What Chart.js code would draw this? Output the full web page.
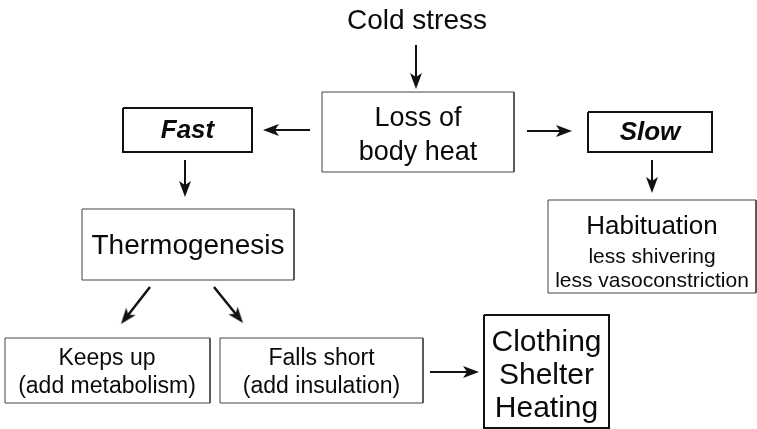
<!DOCTYPE html>
<html lang="en">
<head>
  <meta charset="UTF-8" />
  <title>Cold stress</title>
  <script src="https://cdn.jsdelivr.net/npm/chart.js"></script>
  <style>
    body {
      margin: 0;
      background: #ffffff;
    }
    .chart-wrapper {
      position: relative;
      width: 757px;
      height: 429px;
    }
  </style>
</head>
<body>
  <div class="chart-wrapper">
    <canvas id="flowChart"></canvas>
  </div>

  <script>
    // node texts, one list of lines per node
    const nodeText = [
      ["Cold stress"],
      ["Loss of", "body heat"],
      ["Fast"],
      ["Slow"],
      ["Thermogenesis"],
      ["Habituation", "less shivering", "less vasoconstriction"],
      ["Keeps up", "(add metabolism)"],
      ["Falls short", "(add insulation)"],
      ["Clothing", "Shelter", "Heating"]
    ];

    // layout in chart units (x 0..757, y 0..429 top-down)
    const nodeCenterX = [417, 418, 187.5, 650, 188, 652, 107, 321.5, 546.5];
    const nodeLineY = [
      [20], [118, 152], [130], [132], [245],
      [226, 256, 280], [358, 386], [358, 386], [342, 375, 408]
    ];
    const boxLeft   = [null, 322, 123, 588, 82, 548, 5, 220, 484];
    const boxRight  = [null, 514, 252, 712, 294, 756, 210, 423, 609];
    const boxTop    = [null, 92, 108, 112, 209, 200, 338, 338, 315];
    const boxBottom = [null, 172, 152, 152, 280, 293, 403, 403, 428];

    // arrows: from (x0,y0) to tip (x1,y1)
    const arrowX0 = [416, 310, 527, 185, 652, 150, 214, 430];
    const arrowY0 = [45, 130, 131, 160, 160, 287, 287, 372];
    const arrowX1 = [416, 263, 572, 185, 652, 121, 243, 479];
    const arrowY1 = [89, 130, 131, 197, 193, 324, 323, 372];

    // styles
    const fontSizes = [
      [28], [27, 27], [26], [26], [28],
      [26, 21, 21], [23, 23], [23, 23], [30, 30, 30]
    ];
    const boldItalic = [false, false, true, true, false, false, false, false, false];
    const boxWidth = [0, 1, 2, 2, 1, 1, 1, 1, 2];

    // arrow head used as point style (points up, rotated per arrow)
    const head = document.createElement('canvas');
    head.width = 12;
    head.height = 16;
    const hctx = head.getContext('2d');
    hctx.fillStyle = '#111';
    hctx.beginPath();
    hctx.moveTo(6, 0);
    hctx.lineTo(12, 16);
    hctx.lineTo(6, 12);
    hctx.lineTo(0, 16);
    hctx.closePath();
    hctx.fill();
    const headHalf = 8;

    const datasets = [];

    boxLeft.forEach((l, i) => {
      if (l === null) return;
      const r = boxRight[i], t = boxTop[i], b = boxBottom[i];
      datasets.push({
        data: [{x: l, y: t}, {x: r, y: t}, {x: r, y: b}, {x: l, y: b}, {x: l, y: t}],
        showLine: true,
        borderColor: boxWidth[i] > 1 ? '#111' : '#444',
        borderWidth: boxWidth[i],
        pointRadius: 0,
        fill: false,
        clip: false,
        borderJoinStyle: 'miter'
      });
    });

    arrowX0.forEach((x0, i) => {
      const y0 = arrowY0[i], x1 = arrowX1[i], y1 = arrowY1[i];
      const len = Math.hypot(x1 - x0, y1 - y0);
      const ux = (x1 - x0) / len, uy = (y1 - y0) / len;
      const rot = Math.atan2(x1 - x0, -(y1 - y0)) * 180 / Math.PI;
      const diagonal = x0 !== x1 && y0 !== y1;
      datasets.push({
        data: [{x: x0, y: y0}, {x: x1 - ux * headHalf, y: y1 - uy * headHalf}],
        showLine: true,
        borderColor: '#111',
        borderWidth: diagonal ? 2.5 : 2,
        pointStyle: [false, head],
        pointRadius: [0, 8],
        pointRotation: rot,
        fill: false,
        clip: false
      });
    });

    const textPlugin = {
      id: 'nodeText',
      afterDatasetsDraw(chart) {
        const ctx = chart.ctx;
        const xs = chart.scales.x, ys = chart.scales.y;
        ctx.save();
        ctx.fillStyle = '#0a0a0a';
        ctx.textAlign = 'center';
        ctx.textBaseline = 'middle';
        nodeText.forEach((lines, i) => {
          lines.forEach((line, j) => {
            const size = fontSizes[i][j];
            ctx.font = (boldItalic[i] ? 'italic bold ' : '') + size + 'px "Liberation Sans", Arial, sans-serif';
            ctx.fillText(line, xs.getPixelForValue(nodeCenterX[i]), ys.getPixelForValue(nodeLineY[i][j]) + 1);
          });
        });
        ctx.restore();
      }
    };

    new Chart(document.getElementById("flowChart"), {
      type: 'scatter',
      data: { datasets: datasets },
      options: {
        responsive: true,
        maintainAspectRatio: false,
        animation: false,
        layout: { padding: 0, autoPadding: false },
        scales: {
          x: { type: 'linear', min: 0, max: 757, display: false },
          y: { type: 'linear', min: 0, max: 429, reverse: true, display: false }
        },
        plugins: {
          legend: { display: false },
          tooltip: { enabled: false }
        }
      },
      plugins: [textPlugin]
    });
  </script>
</body>
</html>
